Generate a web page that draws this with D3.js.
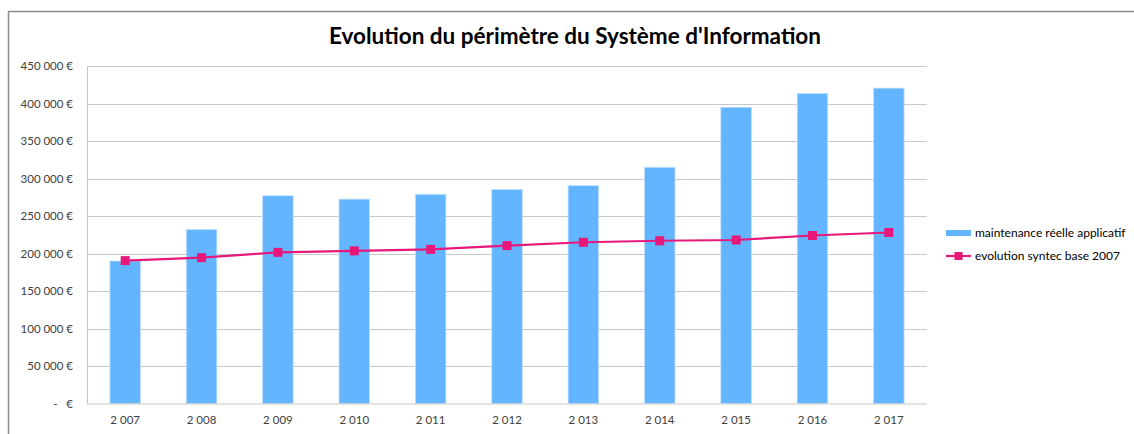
<!DOCTYPE html>
<html>
<head>
<meta charset="utf-8">
<script src="https://cdn.jsdelivr.net/npm/d3@7"></script>
<style>
  body { margin: 0; background: #fff; }
  text { font-family: Lato, "Open Sans", sans-serif; }
</style>
</head>
<body>
<svg id="chart"></svg>
<script>
// Evolution du périmètre du SI

const years = ['2 007', '2 008', '2 009', '2 010', '2 011', '2 012', '2 013', '2 014', '2 015', '2 016', '2 017'];
const maintenance = [190000, 232000, 277000, 272500, 279000, 285500, 290500, 315000, 395000, 413500, 420500];
const syntec = [190500, 194500, 201500, 203500, 205500, 210500, 215000, 217000, 218000, 224000, 228000];
const yTicks = [0, 50000, 100000, 150000, 200000, 250000, 300000, 350000, 400000, 450000];

const width = 1134;
const height = 434;
const plot = { left: 87, right: 927, top: 66, bottom: 403.5 };

const svg = d3.select('#chart')
  .attr('width', width)
  .attr('height', height);

// outer frame (only top and left visible)
svg.append('path')
  .attr('d', `M8.5,${height} V11.5 H${width}`)
  .style('fill', 'none')
  .style('stroke', '#8a8a8a')
  .style('stroke-width', 1.5);

svg.append('text')
  .attr('x', 575)
  .attr('y', 44)
  .attr('text-anchor', 'middle')
  .style('font-size', '22.5px')
  .style('font-weight', 'bold')
  .style('fill', '#000')
  .text("Evolution du périmètre du Système d'Information");

const x = d3.scaleBand()
  .domain(years)
  .range([plot.left, plot.right])
  .paddingInner(0.6)
  .paddingOuter(0.3);

const y = d3.scaleLinear()
  .domain([0, 450000])
  .range([plot.bottom, plot.top]);

const fmt = d => d === 0 ? '-\u00a0\u00a0\u00a0€' : d3.format(',')(d).replace(/,/g, '\u202f') + '\u202f€';

// gridlines
svg.append('g')
  .selectAll('line')
  .data(yTicks.filter(d => d > 0))
  .enter()
  .append('line')
  .attr('x1', plot.left)
  .attr('x2', plot.right)
  .attr('y1', d => Math.round(y(d)) + 0.5)
  .attr('y2', d => Math.round(y(d)) + 0.5)
  .style('stroke', '#c8c8c8')
  .style('stroke-width', 1);

// y axis
const yAxis = svg.append('g')
  .attr('transform', `translate(${plot.left},0)`)
  .call(d3.axisLeft(y).tickValues(yTicks).tickFormat(fmt).tickSize(0).tickPadding(14));
yAxis.select('.domain')
  .style('stroke', '#c8c8c8');
yAxis.selectAll('text')
  .style('font-family', 'Lato, "Open Sans", sans-serif')
  .style('font-size', '11.5px')
  .style('fill', '#404040');

// bars
svg.append('g')
  .selectAll('rect')
  .data(maintenance)
  .enter()
  .append('rect')
  .attr('x', (d, i) => x(years[i]))
  .attr('y', d => y(d))
  .attr('width', x.bandwidth())
  .attr('height', d => y(0) - y(d))
  .style('fill', '#63b5ff')
  .style('stroke', '#bfe0ff')
  .style('stroke-width', 0.8);

// x axis
const xAxis = svg.append('g')
  .attr('transform', `translate(0,${plot.bottom})`)
  .call(d3.axisBottom(x).tickSize(0).tickPadding(12));
xAxis.select('.domain')
  .attr('d', `M${plot.left},0.5H${plot.right}`)
  .style('stroke', '#c8c8c8');
xAxis.selectAll('text')
  .style('font-family', 'Lato, "Open Sans", sans-serif')
  .style('font-size', '11.5px')
  .style('fill', '#404040');

// syntec line
const cx = (d, i) => x(years[i]) + x.bandwidth() / 2;
const line = d3.line()
  .x(cx)
  .y(d => y(d));

svg.append('path')
  .datum(syntec)
  .attr('d', line)
  .style('fill', 'none')
  .style('stroke', '#e8177a')
  .style('stroke-width', 2.2);

svg.append('g')
  .selectAll('rect')
  .data(syntec)
  .enter()
  .append('rect')
  .attr('x', (d, i) => cx(d, i) - 4.5)
  .attr('y', d => y(d) - 4.5)
  .attr('width', 9)
  .attr('height', 9)
  .style('fill', '#e8177a');

// legend
const legend = svg.append('g')
  .attr('transform', 'translate(946,233)');

legend.append('rect')
  .attr('x', 0)
  .attr('y', -3)
  .attr('width', 25)
  .attr('height', 6)
  .style('fill', '#63b5ff');

legend.append('text')
  .attr('x', 29)
  .attr('y', 0)
  .attr('dy', '0.35em')
  .style('font-size', '12px')
  .style('fill', '#000')
  .text('maintenance réelle applicatif');

legend.append('line')
  .attr('x1', 0)
  .attr('x2', 25)
  .attr('y1', 23)
  .attr('y2', 23)
  .style('stroke', '#e8177a')
  .style('stroke-width', 2.2);

legend.append('rect')
  .attr('x', 8.5)
  .attr('y', 19)
  .attr('width', 8)
  .attr('height', 8)
  .style('fill', '#e8177a');

legend.append('text')
  .attr('x', 29)
  .attr('y', 23)
  .attr('dy', '0.35em')
  .style('font-size', '12px')
  .style('fill', '#000')
  .text('evolution syntec base 2007');
</script>
</body>
</html>
